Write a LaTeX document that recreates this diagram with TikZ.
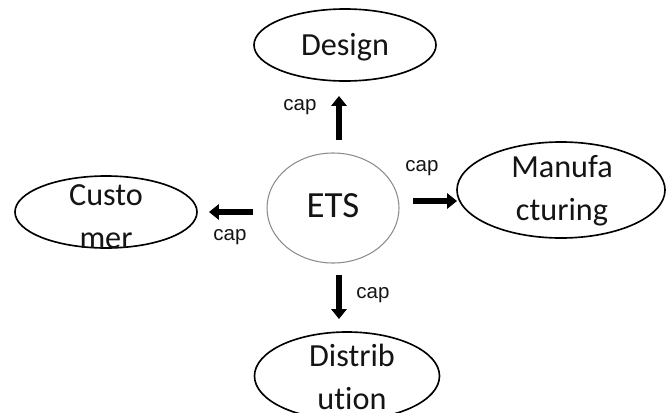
\documentclass[tikz,border=0pt]{standalone}
\usepackage{fontspec}
\setmainfont{Carlito}[Ligatures={NoCommon}]
\newfontfamily\capfont{Liberation Sans}
\usetikzlibrary{shapes.geometric,arrows.meta}
\tikzset{
  oval/.style={draw=black, line width=1.4pt, ellipse, inner sep=0pt},
  word/.style={align=center, inner sep=0pt, text=black!92, font=\fontsize{27.5}{36.5}\selectfont},
  fatarrow/.style={line width=5.5pt, -{Triangle[width=13pt,length=8.5pt]}},
  caplabel/.style={inner sep=0pt, text=black!92, font=\capfont\fontsize{17.5}{20}\selectfont}
}
\begin{document}
\begin{tikzpicture}[x=0.03cm,y=-0.03cm]
  \useasboundingbox (0,0) rectangle (670,412);
  % the five ovals
  \node[oval, minimum width=5.46cm, minimum height=2.16cm] (design) at (345,45) {};
  \node[oval, draw=black!45, line width=0.9pt, minimum width=3.96cm, minimum height=3.3cm] (ets) at (333,208) {};
  \node[oval, minimum width=5.46cm, minimum height=2.16cm] (cust) at (106,212) {};
  \node[oval, minimum width=6.24cm, minimum height=2.88cm] (manu) at (561,190) {};
  \node[oval, minimum width=5.55cm, minimum height=2.64cm] (dist) at (347,376) {};
  % their texts
  \node[word] (design-t) at (345,47) {Design};
  \node[word, font=\fontsize{31.5}{36}\selectfont] (ets-t) at (333,206) {ETS};
  \node[word] (cust-t) at (106,217) {Custo\\mer};
  \node[word] (manu-t) at (562,191) {Manufa\\cturing};
  \node[word] (dist-t) at (352,377) {Distrib\\ution};
  % arrows
  \coordinate (up-a) at (339,140);
  \coordinate (up-b) at (339,96);
  \coordinate (lt-a) at (253,212);
  \coordinate (lt-b) at (209,212);
  \coordinate (rt-a) at (413,201);
  \coordinate (rt-b) at (457,201);
  \coordinate (dn-a) at (339,275);
  \coordinate (dn-b) at (339,319);
  \draw[fatarrow] (up-a) -- (up-b);
  \draw[fatarrow] (lt-a) -- (lt-b);
  \draw[fatarrow] (rt-a) -- (rt-b);
  \draw[fatarrow] (dn-a) -- (dn-b);
  % labels
  \node[caplabel] (cap-up) at (300,107) {cap};
  \node[caplabel] (cap-lt) at (230,237) {cap};
  \node[caplabel] (cap-rt) at (422,168) {cap};
  \node[caplabel] (cap-dn) at (373,295) {cap};
\end{tikzpicture}
\end{document}
